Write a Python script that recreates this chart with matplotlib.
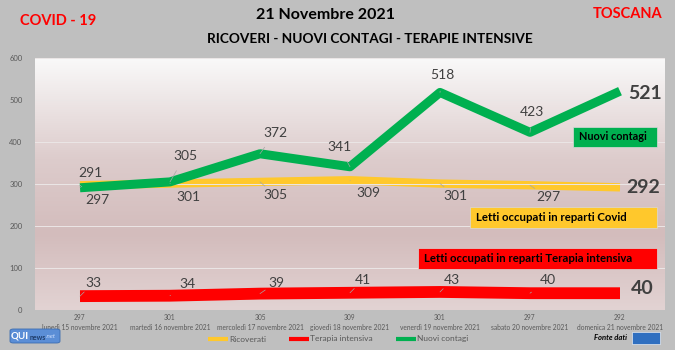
import numpy as np
import matplotlib.pyplot as plt
from matplotlib.colors import LinearSegmentedColormap
from matplotlib.patches import FancyBboxPatch

plt.rcParams['font.family'] = ['Lato', 'DejaVu Sans']

# dati Toscana, settimana 15-21 novembre 2021
giorni = ['lunedì 15 novembre 2021', 'martedì 16 novembre 2021',
          'mercoledì 17 novembre 2021', 'giovedì 18 novembre 2021',
          'venerdì 19 novembre 2021', 'sabato 20 novembre 2021',
          'domenica 21 novembre 2021']
ricoverati = [297, 301, 305, 309, 301, 297, 292]
terapia = [33, 34, 39, 41, 43, 40, 40]
contagi = [291, 305, 372, 341, 518, 423, 521]

GREEN = '#00b050'
YELLOW = '#ffc82c'
RED = '#ff0000'
GREY_TXT = '#404040'
PX = 0.72  # punti per pixel a 100 dpi

fig = plt.figure(figsize=(6.75, 3.5), dpi=100)
fig.patch.set_facecolor('#bfbfbf')
ax = fig.add_axes([35/675, 40/350, 630/675, 252/350])

x = np.arange(len(giorni))
ax.set_xlim(-0.5, len(giorni) - 0.5)
ax.set_ylim(0, 600)

# sfondo sfumato dell'area del grafico
cmap = LinearSegmentedColormap.from_list(
    'bg', [(0, '#e2d3d3'), (0.3, '#d3bcbc'), (0.6, '#ddcccc'), (1, '#f9f9f9')])
grad = np.linspace(0, 1, 256).reshape(-1, 1)
ax.imshow(grad, aspect='auto', cmap=cmap, origin='lower',
          extent=[-0.5, len(giorni) - 0.5, 0, 600], zorder=0)

ax.set_yticks(range(0, 601, 100))
ax.yaxis.grid(True, color='#ebe6e6', lw=0.7)
ax.set_axisbelow(False)
for s in ax.spines.values():
    s.set_visible(False)
ax.tick_params(length=0)
ax.tick_params(axis='y', labelsize=5.5, labelcolor='#595959', pad=9)
ax.set_xticks(x)
ax.set_xticklabels([f'{r}\n{g}' for r, g in zip(ricoverati, giorni)],
                   fontsize=4.8, color='#595959', linespacing=1.5)
ax.tick_params(axis='x', pad=3)

l1, = ax.plot(x, ricoverati, color=YELLOW, lw=6, solid_capstyle='butt', zorder=2, label='Ricoverati')
l2, = ax.plot(x, terapia, color=RED, lw=8.5, solid_capstyle='butt', zorder=2, label='Terapia intensiva')
l3, = ax.plot(x, contagi, color=GREEN, lw=6.5, solid_capstyle='butt', zorder=3, label='Nuovi contagi')

# etichette dei valori: spostamento in pixel (dx a destra, dy in alto)
off_contagi = [(10, 15), (15, 26), (15, 21), (-11, 20), (2, 17), (2, 20), (25, -2)]
off_ricov = [(17, -15), (18, -13), (15, -13), (18, -13), (15, -12), (18, -12), (23, 0)]
off_ti = [(13, 13), (17, 12), (16, 11), (13, 13), (12, 12), (18, 13), (22, 5)]

def etichette(vals, offs):
    n = len(vals)
    for i, (v, (dx, dy)) in enumerate(zip(vals, offs)):
        last = i == n - 1
        ax.annotate(str(v), (x[i], v), xytext=(dx*PX, dy*PX), textcoords='offset points',
                    ha='center', va='center', zorder=5,
                    fontsize=14 if last else 10, fontweight='bold' if last else 'normal',
                    color=GREY_TXT,
                    arrowprops=None if last else dict(arrowstyle='-', color='#a6a6a6', lw=0.5,
                                                      shrinkA=5, shrinkB=0))

etichette(contagi, off_contagi)
etichette(ricoverati, off_ricov)
etichette(terapia, off_ti)

# riquadri descrittivi
def riquadro(x0, y0, w, h, testo, col, size):
    fig.patches.append(plt.Rectangle((x0/675, 1 - (y0 + h)/350), w/675, h/350,
                                     transform=fig.transFigure, facecolor=col,
                                     edgecolor='#d9d9d9', lw=0.5, zorder=6))
    fig.text((x0 + 6)/675, 1 - (y0 + h/2)/350, testo, fontsize=size, fontweight='bold',
             color='black', va='center', ha='left', zorder=7)

riquadro(573, 127, 84, 20, 'Nuovi contagi', GREEN, 7.8)
riquadro(470, 207, 187, 21, 'Letti occupati in reparti Covid', YELLOW, 8.2)
riquadro(418, 248, 239, 21, 'Letti occupati in reparti Terapia intensiva', RED, 8.2)

# titoli
fig.text(325/675, 1 - 15/350, '21 Novembre 2021', ha='center', va='center',
         fontsize=11.5, fontweight='bold', color='black')
fig.text(370/675, 1 - 39/350, 'RICOVERI - NUOVI CONTAGI - TERAPIE INTENSIVE', ha='center',
         va='center', fontsize=9.8, fontweight='bold', color='black')
fig.text(20/675, 1 - 21/350, 'COVID - 19', ha='left', va='center',
         fontsize=10.5, fontweight='bold', color=RED)
fig.text(662/675, 1 - 14/350, 'TOSCANA', ha='right', va='center',
         fontsize=10.5, fontweight='bold', color=RED)

# legenda
fig.legend(handles=[l1, l2, l3], loc='center', bbox_to_anchor=(338/675, 1 - 339/350),
           ncol=3, frameon=False, fontsize=6, handlelength=2.4, handleheight=0.5,
           columnspacing=2.8, handletextpad=0.1, labelcolor='#595959')
for h in fig.legends[0].legend_handles:
    h.set_linewidth(3)

# logo e fonte
fig.patches.append(FancyBboxPatch((10/675, 1 - 343/350), 50/675, 14/350,
                                  boxstyle='round,pad=0,rounding_size=0.005',
                                  transform=fig.transFigure, facecolor='#5b8ed6',
                                  edgecolor='#3b6cb0', lw=0.6))
fig.text(11/675, 1 - 336/350, 'QUI', fontsize=7, fontweight='bold', color='white',
         va='center', ha='left')
fig.text(30/675, 1 - 337/350, 'news', fontsize=5, fontweight='bold', color='#1f3d6b',
         va='center', ha='left')
fig.text(46/675, 1 - 337/350, '.net', fontsize=4.5, style='italic', color='#cfe0ff',
         va='center', ha='left')
fig.text(611/675, 1 - 338/350, 'Fonte dati', fontsize=5.5, style='italic', fontweight='bold',
         color='black', va='center', ha='center')
fig.patches.append(plt.Rectangle((632/675, 1 - 344/350), 28/675, 12/350,
                                 transform=fig.transFigure, facecolor='#2f6fc0',
                                 edgecolor='white', lw=0.4))

fig.savefig('out.png', dpi=100, facecolor=fig.get_facecolor())
